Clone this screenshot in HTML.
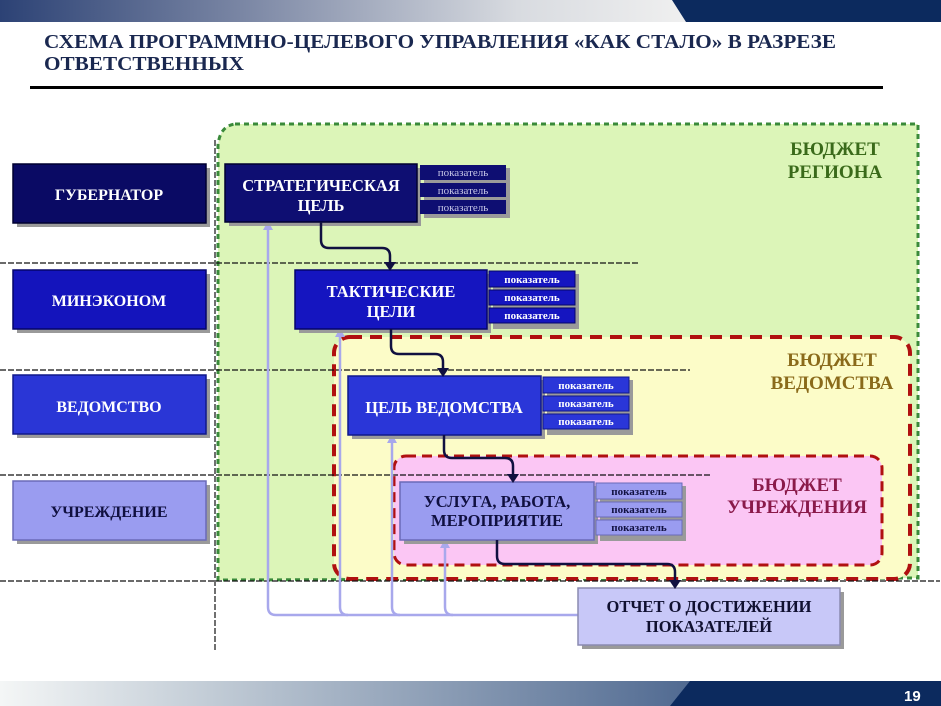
<!DOCTYPE html>
<html><head><meta charset="utf-8"><style>
html,body{margin:0;padding:0;background:#fff;}
body{width:941px;height:706px;overflow:hidden;position:relative;}
svg{position:absolute;left:0;top:0;}
text{font-family:"Liberation Serif","Noto Serif CJK SC",serif;font-weight:bold;}
</style></head><body>
<svg width="941" height="706" viewBox="0 0 941 706" xmlns="http://www.w3.org/2000/svg">
<defs>
<linearGradient id="tg" x1="0" x2="1" y1="0" y2="0">
<stop offset="0" stop-color="#2c4275"/><stop offset="0.35" stop-color="#7a86a4"/><stop offset="0.75" stop-color="#d8dbe0"/><stop offset="1" stop-color="#f0f0f0"/>
</linearGradient>
<linearGradient id="bg" x1="0" x2="1" y1="0" y2="0">
<stop offset="0" stop-color="#f4f6f6"/><stop offset="0.3" stop-color="#c2ccd6"/><stop offset="1" stop-color="#4e6890"/>
</linearGradient>
</defs>
<rect x="0" y="0" width="690" height="22" fill="url(#tg)"/>
<path d="M672,0 L941,0 L941,22 L686,22 z" fill="#0c2a5e"/>
<text x="44" y="48" font-size="20" fill="#1a2850" textLength="792" lengthAdjust="spacingAndGlyphs">СХЕМА ПРОГРАММНО-ЦЕЛЕВОГО УПРАВЛЕНИЯ «КАК СТАЛО» В РАЗРЕЗЕ</text>
<text x="44" y="70" font-size="20" fill="#1a2850" textLength="200" lengthAdjust="spacingAndGlyphs">ОТВЕТСТВЕННЫХ</text>
<rect x="30" y="86" width="853" height="3" fill="#000"/>
<rect x="0" y="681" width="700" height="25" fill="url(#bg)"/>
<path d="M690,681 L941,681 L941,706 L670,706 z" fill="#0c2a5e"/>
<text x="904" y="701" font-size="15" fill="#fff" style="font-family:'Liberation Sans',sans-serif">19</text>

<path d="M235,124 L918,124 L918,578 L218,580 L218,145 Q220,126 235,124 z" fill="#dcf5b8" stroke="#3a8a3a" stroke-width="3" stroke-dasharray="5,4"/>
<rect x="334" y="337" width="576" height="242" rx="16" fill="#fcfcc8" stroke="#b01010" stroke-width="4" stroke-dasharray="12,8"/>
<rect x="394" y="456" width="488" height="109" rx="12" fill="#fbc6f4" stroke="#b01010" stroke-width="3" stroke-dasharray="10,6"/>

<g stroke="#111" stroke-width="1.2" stroke-dasharray="6,2">
<line x1="215" y1="140" x2="215" y2="652"/>
<line x1="0" y1="263" x2="640" y2="263"/>
<line x1="0" y1="370" x2="690" y2="370"/>
<line x1="0" y1="475" x2="710" y2="475"/>
<line x1="0" y1="581" x2="940" y2="581"/>
</g>

<text x="835" y="155" font-size="19" fill="#3a6a1a" text-anchor="middle">БЮДЖЕТ</text>
<text x="835" y="178" font-size="19" fill="#3a6a1a" text-anchor="middle">РЕГИОНА</text>
<text x="832" y="366" font-size="19" fill="#8a6a1a" text-anchor="middle">БЮДЖЕТ</text>
<text x="832" y="389" font-size="19" fill="#8a6a1a" text-anchor="middle">ВЕДОМСТВА</text>
<text x="797" y="491" font-size="19" fill="#8a1a4a" text-anchor="middle">БЮДЖЕТ</text>
<text x="797" y="513" font-size="19" fill="#8a1a4a" text-anchor="middle">УЧРЕЖДЕНИЯ</text>

<g fill="none" stroke="#a8a8ec" stroke-width="2.5">
<path d="M268,224 L268,607 Q268,615 276,615 L580,615"/>
<path d="M340,331 L340,607 Q340,615 348,615"/>
<path d="M392,437 L392,607 Q392,615 400,615"/>
<path d="M445,542 L445,607 Q445,615 453,615"/>
</g>
<g fill="#a8a8ec">
<path d="M263,230 L273,230 L268,221 z"/><path d="M335,337 L345,337 L340,328 z"/><path d="M387,443 L397,443 L392,434 z"/><path d="M440,548 L450,548 L445,539 z"/>
</g>

<g>
<rect x="17" y="168" width="193" height="59" fill="#9a9a9a"/>
<rect x="13" y="164" width="193" height="59" fill="#0a0a64" stroke="#000030" stroke-width="1.5"/>
<text x="109" y="200" font-size="16" fill="#fff" text-anchor="middle">ГУБЕРНАТОР</text>
<rect x="17" y="274" width="193" height="59" fill="#9a9a9a"/>
<rect x="13" y="270" width="193" height="59" fill="#1414bc" stroke="#05056a" stroke-width="1.5"/>
<text x="109" y="306" font-size="16" fill="#fff" text-anchor="middle">МИНЭКОНОМ</text>
<rect x="17" y="379" width="193" height="59" fill="#9a9a9a"/>
<rect x="13" y="375" width="193" height="59" fill="#2a36d6" stroke="#10188a" stroke-width="1.5"/>
<text x="109" y="412" font-size="16" fill="#fff" text-anchor="middle">ВЕДОМСТВО</text>
<rect x="17" y="485" width="193" height="59" fill="#9a9a9a"/>
<rect x="13" y="481" width="193" height="59" fill="#9a9cf0" stroke="#6a6ab8" stroke-width="1.5"/>
<text x="109" y="517" font-size="16" fill="#101040" text-anchor="middle">УЧРЕЖДЕНИЕ</text>
</g>

<g>
<rect x="229" y="168" width="192" height="58" fill="#9a9a9a"/>
<rect x="225" y="164" width="192" height="58" fill="#0e0e72" stroke="#000030" stroke-width="1.5"/>
<text x="321" y="191" font-size="16.5" fill="#fff" text-anchor="middle">СТРАТЕГИЧЕСКАЯ</text>
<text x="321" y="211" font-size="16.5" fill="#fff" text-anchor="middle">ЦЕЛЬ</text>
<rect x="424" y="168" width="86" height="50" fill="#9a9a9a"/>
<rect x="420" y="165" width="86" height="15" fill="#0e0e72"/><text x="463" y="176" font-size="11" fill="#c8c8e8" text-anchor="middle" style="font-weight:normal">показатель</text>
<rect x="420" y="183" width="86" height="14" fill="#0e0e72"/><text x="463" y="194" font-size="11" fill="#c8c8e8" text-anchor="middle" style="font-weight:normal">показатель</text>
<rect x="420" y="200" width="86" height="14" fill="#0e0e72"/><text x="463" y="211" font-size="11" fill="#c8c8e8" text-anchor="middle" style="font-weight:normal">показатель</text>

<rect x="299" y="274" width="192" height="59" fill="#9a9a9a"/>
<rect x="295" y="270" width="192" height="59" fill="#1515c0" stroke="#05056a" stroke-width="1.5"/>
<text x="391" y="297" font-size="16.5" fill="#fff" text-anchor="middle">ТАКТИЧЕСКИЕ</text>
<text x="391" y="317" font-size="16.5" fill="#fff" text-anchor="middle">ЦЕЛИ</text>
<rect x="493" y="274" width="86" height="55" fill="#9a9a9a"/>
<rect x="489" y="271" width="86" height="16" fill="#1515c0" stroke="#05056a"/><text x="532" y="283" font-size="11" fill="#fff" text-anchor="middle">показатель</text>
<rect x="489" y="290" width="86" height="15" fill="#1515c0" stroke="#05056a"/><text x="532" y="301" font-size="11" fill="#fff" text-anchor="middle">показатель</text>
<rect x="489" y="308" width="86" height="15" fill="#1515c0" stroke="#05056a"/><text x="532" y="319" font-size="11" fill="#fff" text-anchor="middle">показатель</text>

<rect x="352" y="380" width="193" height="59" fill="#9a9a9a"/>
<rect x="348" y="376" width="193" height="59" fill="#2a36d8" stroke="#10188a" stroke-width="1.5"/>
<text x="444" y="413" font-size="16.5" fill="#fff" text-anchor="middle">ЦЕЛЬ ВЕДОМСТВА</text>
<rect x="547" y="380" width="86" height="55" fill="#9a9a9a"/>
<rect x="543" y="377" width="86" height="16" fill="#2a36d8" stroke="#10188a"/><text x="586" y="389" font-size="11" fill="#fff" text-anchor="middle">показатель</text>
<rect x="543" y="396" width="86" height="15" fill="#2a36d8" stroke="#10188a"/><text x="586" y="407" font-size="11" fill="#fff" text-anchor="middle">показатель</text>
<rect x="543" y="414" width="86" height="15" fill="#2a36d8" stroke="#10188a"/><text x="586" y="425" font-size="11" fill="#fff" text-anchor="middle">показатель</text>

<rect x="404" y="486" width="194" height="58" fill="#9a9a9a"/>
<rect x="400" y="482" width="194" height="58" fill="#9a9cf0" stroke="#6a6ab8" stroke-width="1.5"/>
<text x="497" y="507" font-size="16.5" fill="#101040" text-anchor="middle">УСЛУГА, РАБОТА,</text>
<text x="497" y="526" font-size="16.5" fill="#101040" text-anchor="middle">МЕРОПРИЯТИЕ</text>
<rect x="600" y="486" width="86" height="55" fill="#9a9a9a"/>
<rect x="596" y="483" width="86" height="16" fill="#9a9cf0" stroke="#6a6ab8"/><text x="639" y="495" font-size="11" fill="#101040" text-anchor="middle">показатель</text>
<rect x="596" y="502" width="86" height="15" fill="#9a9cf0" stroke="#6a6ab8"/><text x="639" y="513" font-size="11" fill="#101040" text-anchor="middle">показатель</text>
<rect x="596" y="520" width="86" height="15" fill="#9a9cf0" stroke="#6a6ab8"/><text x="639" y="531" font-size="11" fill="#101040" text-anchor="middle">показатель</text>

<rect x="582" y="592" width="262" height="57" fill="#9a9a9a"/>
<rect x="578" y="588" width="262" height="57" fill="#c8c8f8" stroke="#8a8ab0" stroke-width="1.5"/>
<text x="709" y="612" font-size="16.5" fill="#101030" text-anchor="middle">ОТЧЕТ О ДОСТИЖЕНИИ</text>
<text x="709" y="632" font-size="16.5" fill="#101030" text-anchor="middle">ПОКАЗАТЕЛЕЙ</text>
</g>

<g fill="none" stroke="#101040" stroke-width="2.5">
<path d="M321,222 L321,240 Q321,248 329,248 L382,248 Q390,248 390,256 L390,264"/>
<path d="M391,329 L391,346 Q391,354 399,354 L435,354 Q443,354 443,362 L443,370"/>
<path d="M444,435 L444,450 Q444,458 452,458 L505,458 Q513,458 513,466 L513,476"/>
<path d="M497,540 L497,556 Q497,564 505,564 L667,564 Q675,564 675,572 L675,582"/>
</g>
<g fill="#101040">
<path d="M384,262 L396,262 L390,271 z"/><path d="M437,368 L449,368 L443,377 z"/><path d="M507,474 L519,474 L513,483 z"/><path d="M669,580 L681,580 L675,589 z"/>
</g>
</svg>
</body></html>
